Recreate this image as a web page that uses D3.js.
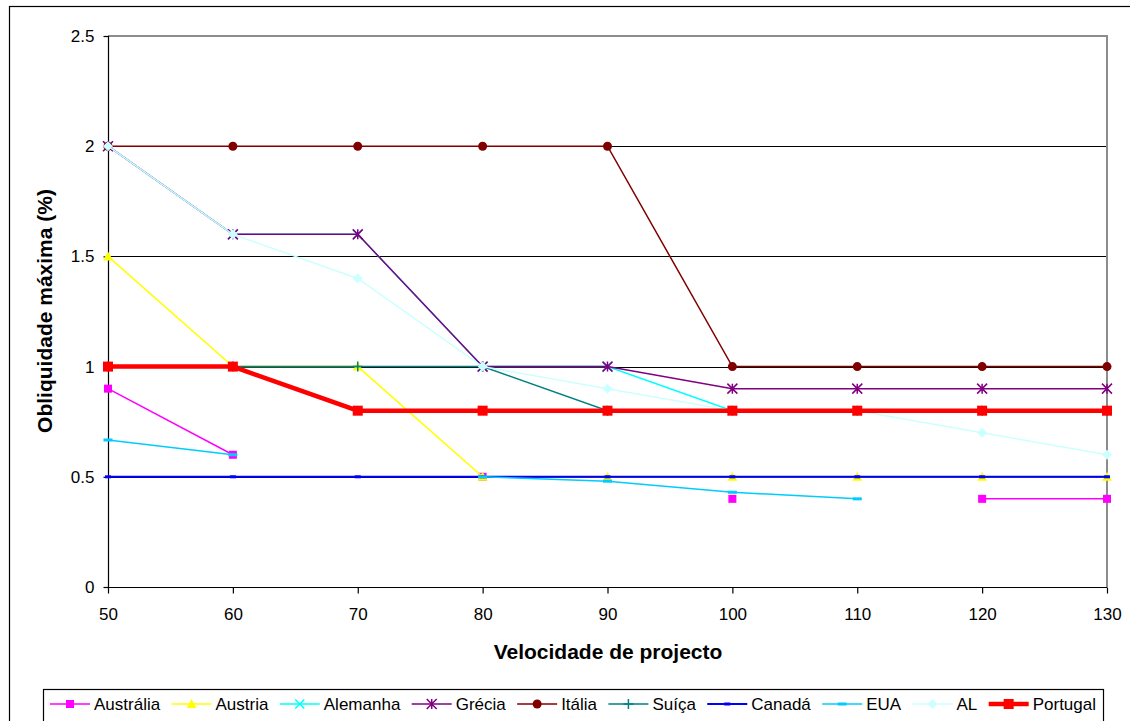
<!DOCTYPE html>
<html>
<head>
<meta charset="utf-8">
<script src="https://cdn.jsdelivr.net/npm/d3@7"></script>
<style>
  html, body { margin: 0; padding: 0; background: #fff; }
  svg { display: block; font-family: "Liberation Sans", Arial, sans-serif; }
</style>
</head>
<body>
<svg id="chart" width="1130" height="721"></svg>
<script>
// ---- data ----
const speeds = [50, 60, 70, 80, 90, 100, 110, 120, 130];
const yTicks = [0, 0.5, 1, 1.5, 2, 2.5];
const yTickLabels = ["0", "0.5", "1", "1.5", "2", "2.5"];
const xTickLabels = ["50", "60", "70", "80", "90", "100", "110", "120", "130"];

const australia = [0.9, 0.6, null, 0.5, null, 0.4, null, 0.4, 0.4];
const austria   = [1.5, 1.0, 1.0, 0.5, 0.5, 0.5, 0.5, 0.5, 0.5];
const alemanha  = [2.0, 1.6, 1.6, 1.0, 1.0, 0.8, 0.8, 0.8, 0.8];
const grecia    = [2.0, 1.6, 1.6, 1.0, 1.0, 0.9, 0.9, 0.9, 0.9];
const italia    = [2.0, 2.0, 2.0, 2.0, 2.0, 1.0, 1.0, 1.0, 1.0];
const suica     = [1.0, 1.0, 1.0, 1.0, 0.8, 0.8, 0.8, 0.8, 0.8];
const canada    = [0.5, 0.5, 0.5, 0.5, 0.5, 0.5, 0.5, 0.5, 0.5];
const eua       = [0.667, 0.6, null, 0.5, 0.48, 0.43, 0.4, null, null];
const al        = [2.0, 1.6, 1.4, 1.0, 0.9, 0.8, 0.8, 0.7, 0.6];
const portugal  = [1.0, 1.0, 0.8, 0.8, 0.8, 0.8, 0.8, 0.8, 0.8];

const seriesNames = ["Austrália", "Austria", "Alemanha", "Grécia", "Itália", "Suíça", "Canadá", "EUA", "AL", "Portugal"];
const seriesValues = [australia, austria, alemanha, grecia, italia, suica, canada, eua, al, portugal];

// ---- styles ----
const styles = {
  "Austrália": { color: "#FF00FF", marker: "square", size: 8, width: 1.5 },
  "Austria":   { color: "#FFFF00", marker: "triangle", size: 10, width: 1.5 },
  "Alemanha":  { color: "#00FFFF", marker: "x", size: 9, width: 1.5 },
  "Grécia":    { color: "#800080", marker: "asterisk", size: 10, width: 1.5 },
  "Itália":    { color: "#800000", marker: "circle", size: 9, width: 1.5 },
  "Suíça":     { color: "#008080", marker: "plus", size: 10, width: 1.5 },
  "Canadá":    { color: "#0000FF", marker: "dash", size: 6, width: 2 },
  "EUA":       { color: "#00CCFF", marker: "dash", size: 9, width: 1.5 },
  "AL":        { color: "#CCFFFF", marker: "diamond", size: 10, width: 1.5 },
  "Portugal":  { color: "#FF0000", marker: "square", size: 10, width: 4.5 }
};

const svg = d3.select("#chart");

// outer chart border
svg.append("rect").attr("x", 9.5).attr("y", 6.5).attr("width", 1200).attr("height", 800)
  .attr("fill", "#fff").attr("stroke", "#000").attr("stroke-width", 1.2);

const x = d3.scaleLinear().domain([50, 130]).range([108, 1107]);
const y = d3.scaleLinear().domain([0, 2.5]).range([587, 36]);

// gridlines
svg.append("g").selectAll("line").data(yTicks.filter(v => v > 0 && v < 2.5)).join("line")
  .attr("x1", x(50)).attr("x2", x(130))
  .attr("y1", d => Math.round(y(d)) + 0.5).attr("y2", d => Math.round(y(d)) + 0.5)
  .attr("stroke", "#000").attr("stroke-width", 1);

// plot border (top and right, gray)
svg.append("path")
  .attr("d", `M${x(50)},${y(2.5)}H${x(130)}V${y(0)}`)
  .attr("fill", "none").attr("stroke", "#8c8c8c").attr("stroke-width", 2);

// axes
const yAxis = d3.axisLeft(y).tickValues(yTicks).tickFormat((d, i) => yTickLabels[i]).tickSize(5).tickPadding(9);
const gy = svg.append("g").attr("transform", `translate(${x(50) + 0.5},0)`).call(yAxis);
const xAxis = d3.axisBottom(x).tickValues(speeds).tickFormat((d, i) => xTickLabels[i]).tickSize(6).tickPadding(14);
const gx = svg.append("g").attr("transform", `translate(0,${y(0) + 0.5})`).call(xAxis);
[gx, gy].forEach(g => {
  g.select(".domain").attr("stroke", "#000").attr("stroke-width", 1.2);
  g.selectAll(".tick line").attr("stroke", "#000").attr("stroke-width", 1.2);
  g.selectAll(".tick text").attr("fill", "#000").attr("font-size", 17)
    .attr("font-family", "'Liberation Sans', Arial, sans-serif");
});
gx.select(".domain").attr("d", `M${x(50)},0H${x(130)}`);
gy.select(".domain").attr("d", `M0,${y(0)}V${y(2.5)}`);

// axis titles
svg.append("text").attr("x", 608).attr("y", 659).attr("text-anchor", "middle")
  .attr("font-size", 21).attr("font-weight", "bold").text("Velocidade de projecto");
svg.append("text").attr("transform", "translate(52,311) rotate(-90)").attr("text-anchor", "middle")
  .attr("font-size", 21).attr("font-weight", "bold").text("Obliquidade máxima (%)");

// marker drawer
function drawMarker(g, type, cx, cy, s, color) {
  const h = s / 2;
  if (type === "square") {
    g.append("rect").attr("x", cx - h).attr("y", cy - h).attr("width", s).attr("height", s).attr("fill", color);
  } else if (type === "triangle") {
    g.append("path").attr("d", `M${cx},${cy - h}L${cx + h},${cy + h * 0.8}L${cx - h},${cy + h * 0.8}Z`).attr("fill", color);
  } else if (type === "circle") {
    g.append("circle").attr("cx", cx).attr("cy", cy).attr("r", h).attr("fill", color);
  } else if (type === "diamond") {
    g.append("path").attr("d", `M${cx},${cy - h}L${cx + h},${cy}L${cx},${cy + h}L${cx - h},${cy}Z`).attr("fill", color);
  } else if (type === "x") {
    g.append("path").attr("d", `M${cx - h},${cy - h}L${cx + h},${cy + h}M${cx - h},${cy + h}L${cx + h},${cy - h}`)
      .attr("stroke", color).attr("stroke-width", 1.5);
  } else if (type === "asterisk") {
    g.append("path").attr("d", `M${cx - h},${cy - h}L${cx + h},${cy + h}M${cx - h},${cy + h}L${cx + h},${cy - h}M${cx},${cy - h}V${cy + h}`)
      .attr("stroke", color).attr("stroke-width", 1.5);
  } else if (type === "plus") {
    g.append("path").attr("d", `M${cx - h},${cy}H${cx + h}M${cx},${cy - h}V${cy + h}`)
      .attr("stroke", color).attr("stroke-width", 1.5);
  } else if (type === "dash") {
    g.append("rect").attr("x", cx - h).attr("y", cy - 1.5).attr("width", s).attr("height", 3).attr("fill", color);
  }
}

// series
const line = d3.line().defined(d => d[1] !== null).x(d => x(d[0])).y(d => y(d[1]));
const plot = svg.append("g");
seriesNames.forEach((name, i) => {
  const st = styles[name];
  const pts = speeds.map((s, j) => [s, seriesValues[i][j]]);
  const g = plot.append("g");
  g.append("path").datum(pts).attr("d", line).attr("fill", "none")
    .attr("stroke", st.color).attr("stroke-width", st.width).attr("stroke-linejoin", "miter");
  pts.filter(p => p[1] !== null).forEach(p => drawMarker(g, st.marker, x(p[0]), y(p[1]), st.size, st.color));
});

// legend
const legend = svg.append("g");
legend.append("rect").attr("x", 43.5).attr("y", 689.5).attr("width", 1060).attr("height", 60)
  .attr("fill", "#fff").attr("stroke", "#000").attr("stroke-width", 1.2);
const items = [];
seriesNames.forEach(name => {
  const g = legend.append("g");
  const t = g.append("text").attr("font-size", 17).attr("y", 710).attr("fill", "#000").text(name);
  items.push({ name, g, t, w: t.node().getComputedTextLength() });
});
const sampleW = 40, textGap = 4;
const startX = 50, endX = 1096;
const totalFixed = items.reduce((a, it) => a + sampleW + textGap + it.w, 0);
const gap = (endX - startX - totalFixed) / (items.length - 1);
let cx = startX;
items.forEach(it => {
  const st = styles[it.name];
  const ly = 704;
  it.g.append("line").attr("x1", cx).attr("x2", cx + sampleW).attr("y1", ly).attr("y2", ly)
    .attr("stroke", st.color).attr("stroke-width", st.width);
  drawMarker(it.g, st.marker, cx + sampleW / 2, ly, st.size, st.color);
  it.t.attr("x", cx + sampleW + textGap);
  cx += sampleW + textGap + it.w + gap;
});
</script>
</body>
</html>
